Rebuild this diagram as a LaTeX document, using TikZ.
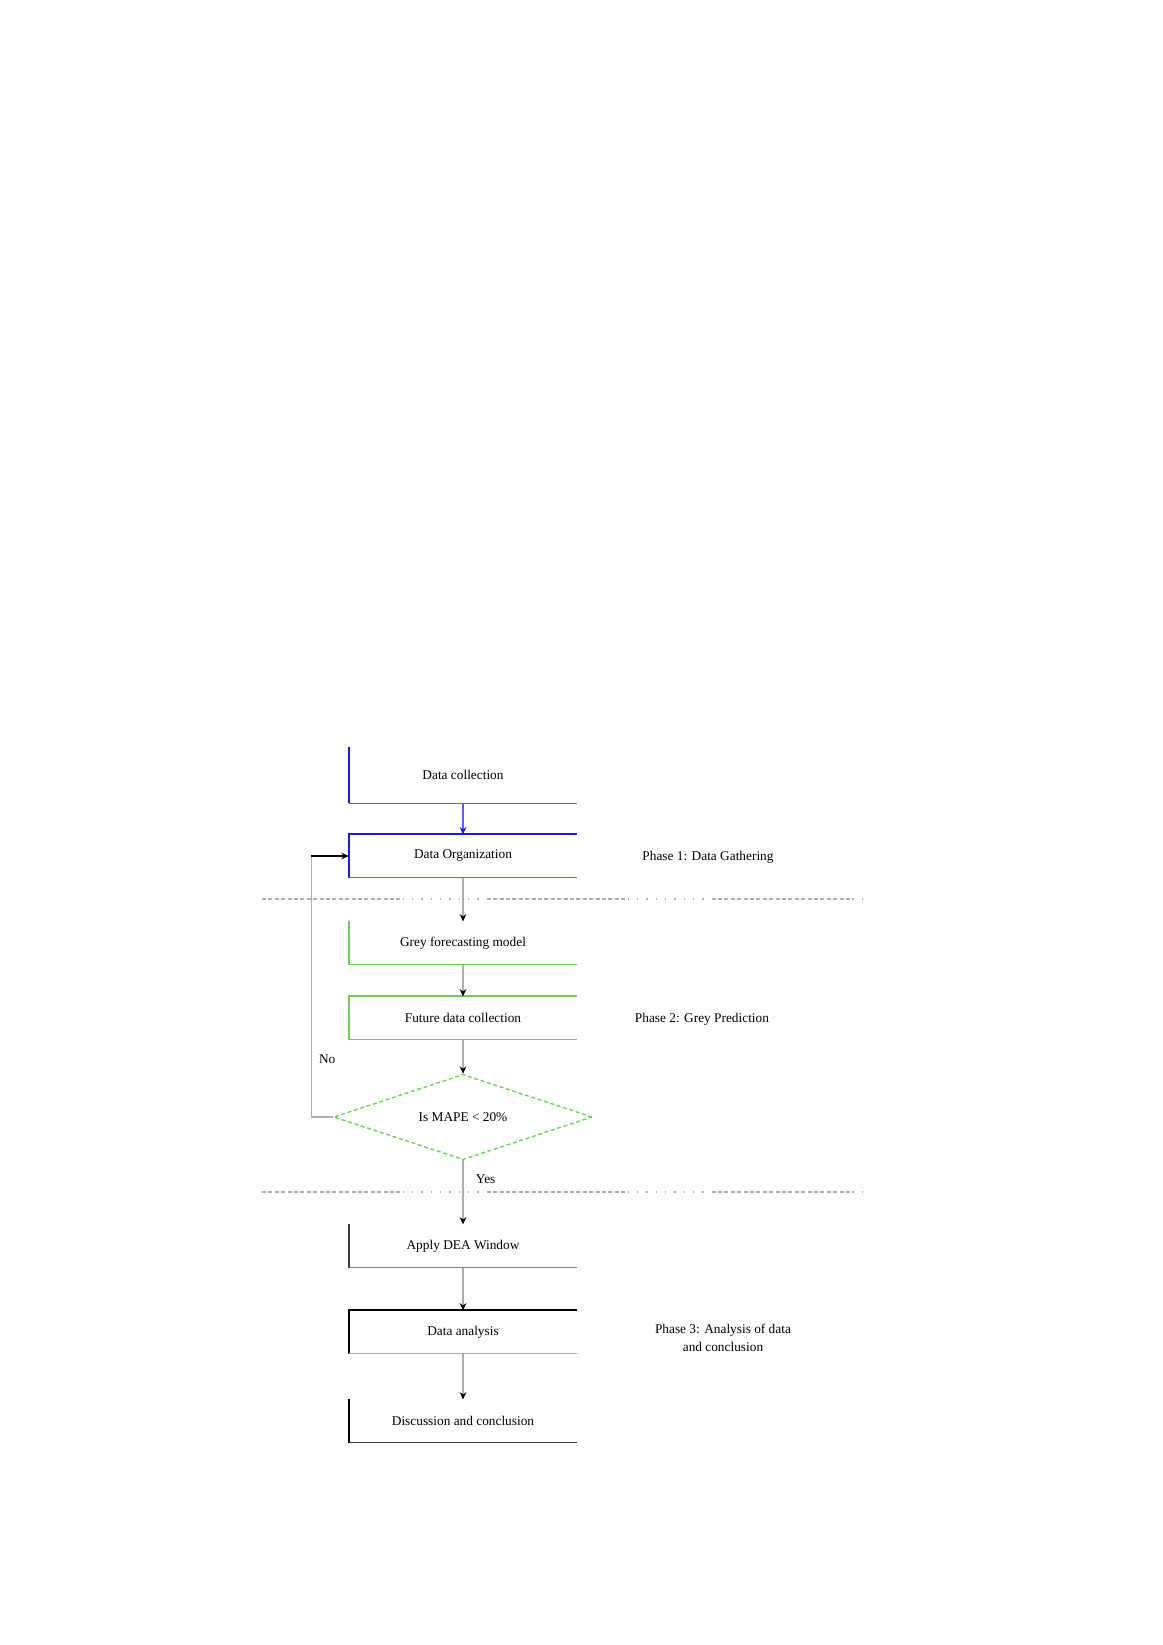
\documentclass[tikz,border=0pt]{standalone}
\usepackage{fontspec}
\setmainfont{Liberation Serif}
\usetikzlibrary{positioning}
\usetikzlibrary{arrows.meta}
\usetikzlibrary{shapes.geometric}
\usetikzlibrary{calc}

\definecolor{phaseblue}{RGB}{25,25,235}
\definecolor{phasegreen}{RGB}{105,210,85}
\definecolor{linegray}{RGB}{175,175,175}
\definecolor{darkline}{RGB}{60,60,60}

\begin{document}
\begin{tikzpicture}[
    x=0.75pt, y=-0.75pt,
    font={\fontsize{10pt}{14}\selectfont},
% Step style
    stepbox/.style={rectangle,minimum width=171pt,minimum height=32pt,
		inner sep=0pt,text centered},
    phase/.style={align=center,font={\fontsize{10pt}{14}\selectfont}},
    edgeA/.style={line width=1.6pt},
    edgeB/.style={line width=0.7pt},
    flow/.style={draw=linegray,line width=0.8pt,-{Stealth[black,length=5.5pt,width=5pt]}},
    sepline/.style={draw=linegray,line width=0.8pt,
		dash pattern={on 3pt off 1.8pt on 3pt off 1.8pt on 3pt off 1.8pt on 3pt off 1.8pt
		on 3pt off 1.8pt on 3pt off 1.8pt on 3pt off 1.8pt on 3pt off 1.8pt
		on 3pt off 1.8pt on 3pt off 1.8pt on 3pt off 1.8pt on 3pt off 1.8pt
		on 3pt off 1.8pt on 3pt off 1.8pt on 3pt off 1.8pt on 3pt off 1.8pt
		on 3pt off 1.8pt on 3pt off 1.8pt on 3pt off 1.8pt on 3pt off 1.8pt
		on 3pt off 1.8pt on 3pt off 1.8pt
		on 1pt off 6pt on 1pt off 6pt on 1pt off 6pt on 1pt off 6pt on 1pt off 6pt
		on 1pt off 6pt on 1pt off 6pt on 1pt off 6pt on 1pt off 6pt}}
    ]

  \useasboundingbox (0,0) rectangle (1163,1645);

  % Phase 1
  \node (dcol) [stepbox,minimum height=42pt] at (463,775) {Data collection};
  \node (dorg) [stepbox] at (463,856) {Data Organization};
  % Phase 2
  \node (grey) [stepbox] at (463,943) {Grey forecasting model};
  \node (fut) [stepbox] at (463,1018) {Future data collection};
  \node (mape) [diamond,aspect=3,minimum width=194pt,minimum height=64pt,inner sep=0pt,
	draw=phasegreen,line width=1pt,dash pattern={on 3pt off 2pt}] at (463,1117) {Is MAPE < 20\%};
  % Phase 3
  \node (dea) [stepbox] at (463,1246) {Apply DEA Window};
  \node (dana) [stepbox] at (463,1332) {Data analysis};
  \node (disc) [stepbox] at (463,1421) {Discussion and conclusion};

  \node (ph1) [phase] at (708,857) {Phase 1: Data Gathering};
  \node (ph2) [phase] at (702,1019) {Phase 2: Grey Prediction};
  \node (ph3) [phase] at (723,1338) {Phase 3: Analysis of data\\and conclusion};

  % box edges (right side open)
  \draw[phaseblue,edgeA] (dcol.north west) -- (dcol.south west);
  \draw[phaseblue!70,edgeB] (dcol.south west) -- (dcol.south east);
  \draw[phaseblue,edgeA] (dorg.north east) -- (dorg.north west) -- (dorg.south west);
  \draw[phaseblue!70,edgeB] (dorg.south west) -- (dorg.south east);

  \draw[phasegreen,edgeA] (grey.north west) -- (grey.south west);
  \draw[phasegreen,edgeB] (grey.south west) -- (grey.south east);
  \draw[phasegreen,edgeA] (fut.north east) -- (fut.north west) -- (fut.south west);
  \draw[phasegreen,edgeB] (fut.south west) -- (fut.south east);

  \draw[darkline,edgeA] (dea.north west) -- (dea.south west);
  \draw[gray,edgeB] (dea.south west) -- (dea.south east);
  \draw[black,edgeA] (dana.north east) -- (dana.north west) -- (dana.south west);
  \draw[linegray,edgeB] (dana.south west) -- (dana.south east);
  \draw[black,edgeA] (disc.north west) -- (disc.south west);
  \draw[darkline,edgeB] (disc.south west) -- (disc.south east);

  % connectors
  \draw[flow,draw=phaseblue!70,-{Stealth[phaseblue,length=5.5pt,width=5pt]}] (dcol.south) -- (dorg.north);
  \draw[flow] (dorg.south) -- (grey.north);
  \draw[flow] (grey.south) -- (fut.north);
  \draw[flow] (fut.south) -- (mape.north);
  \draw[flow] (mape.south) -- node[pos=0.3,right=6pt,black] {Yes} (dea.north);
  \draw[flow] (dea.south) -- (dana.north);
  \draw[flow] (dana.south) -- (disc.north);

  % feedback loop
  \coordinate (loop) at ([xshift=-28pt]dorg.west);
  \draw[linegray,line width=0.8pt] (mape.west) -| node[pos=0.61,right=2pt,black] {No} (loop);
  \draw[black,line width=0.9pt,-{Stealth[length=5.5pt,width=5pt]}] (loop) -- (dorg.west);

  % phase separators
  \draw[sepline] (262,899) -- (870,899);
  \draw[sepline] (262,1192) -- (870,1192);

\end{tikzpicture}
\end{document}
